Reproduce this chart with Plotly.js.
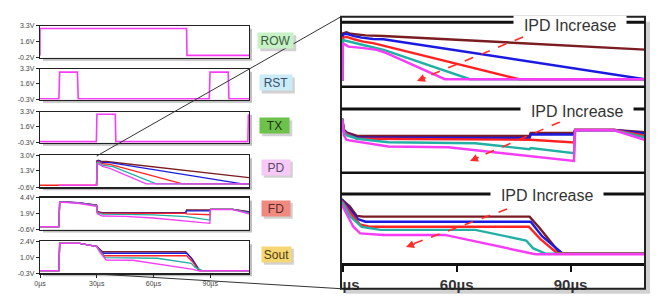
<!DOCTYPE html>
<html><head><meta charset="utf-8">
<script src="https://cdn.plot.ly/plotly-3.0.1.min.js"></script>
<style>html,body{margin:0;padding:0;background:#fff}#c{width:665px;height:306px}</style>
</head><body><div id="c"></div>
<script>
// ---------------- DATA (time in µs, voltage in V) ----------------
const panelNames = ['ROW','RST','TX','PD','FD','Sout'];
const leftXTicks = [0,30,60,90];
const leftXTickText = ['0µs','30µs','60µs','90µs'];
const zoomXTicks = [30,60,90];
const zoomXTickText = ['30µs','60µs','90µs'];
const rowTicks  = [-0.2,1.6,3.3];
const rstTicks  = [-0.3,1.6,3.3];
const txTicks   = [-0.3,1.6,3.3];
const pdTicks   = [-0.6,1.3,3.0];
const fdTicks   = [-0.6,1.9,4.4];
const soutTicks = [-0.3,1.0,2.4];

const rowSig = [[0,0.05],[0,3.0],[77.5,3.0],[77.7,0.05],[110.5,0.05]];
const rstSig = [[0,-0.18],[10,-0.18],[10.4,2.9],[19.8,2.9],[20.2,-0.18],[89.5,-0.18],[89.9,2.9],[99.5,2.9],[99.9,-0.18],[110.5,-0.18]];
const txSig  = [[0,-0.18],[29.8,-0.18],[30.1,3.0],[39.8,3.0],[40.1,-0.18],[109.9,-0.18],[110.2,3.0]];

// PD (left)
const pdBrown   = [[29.9,-0.37],[30.1,2.39],[31,2.45],[32.5,2.3],[35,2.3],[110.5,0.48]];
const pdBlue    = [[29.9,-0.37],[30.1,2.33],[31,2.4],[33,2.2],[37,2.17],[107,-0.22],[110.5,-0.22]];
const pdRed     = [[0,-0.37],[29.9,-0.37],[30.1,2.25],[31,2.3],[33,2.05],[37,1.99],[75.4,-0.22],[110.5,-0.22]];
const pdCyan    = [[29.9,-0.37],[30.1,2.17],[31,2.2],[33,1.9],[38.6,1.72],[61.4,-0.22],[110.5,-0.22]];
const pdMagenta = [[10,-0.37],[29.9,-0.37],[30.1,2.02],[31,2.05],[33,1.75],[37,1.54],[56.2,-0.22],[110.5,-0.22]];

// FD (left)
const fdBrown   = [[0,-0.16],[10,-0.16],[10.4,3.74],[20,3.59],[29,3.23],[29.9,3.2],[30.3,2.2],[33,2.05],[77,2.05],[77.5,2.45],[89.8,2.45],[90.1,2.56],[102,2.56],[110.5,2.2]];
const fdBlue    = [[0,-0.16],[10,-0.16],[10.4,3.74],[20,3.59],[29,3.23],[29.9,3.2],[30.3,2.15],[33,1.95],[77,1.95],[77.5,2.3],[89.8,2.3],[90.1,2.56],[102,2.56],[110.5,2.1]];
const fdRed     = [[0,-0.16],[10,-0.16],[10.4,3.72],[20,3.57],[29,3.2],[29.9,3.17],[30.3,2.1],[33,1.93],[77,1.93],[77.5,1.85],[89.8,1.71],[90.1,2.56],[102,2.56],[110.5,2.0]];
const fdCyan    = [[0,-0.16],[10,-0.16],[10.4,3.72],[20,3.55],[29,3.15],[29.9,3.12],[30.3,2.0],[33,1.8],[60,1.7],[77,1.3],[77.5,1.4],[89.8,0.88],[90.1,2.56],[102,2.56],[110.5,1.95]];
const fdMagenta = [[0,-0.16],[10,-0.16],[10.4,3.7],[20,3.5],[29,3.07],[29.9,3.05],[30.3,1.85],[33,1.51],[45,1.45],[60,1.2],[89.8,0.37],[90.1,2.5],[102,2.5],[110.5,1.85]];

// Sout (left)
const soBrown   = [[0,-0.08],[10,-0.08],[10.4,2.23],[21,2.23],[29,2.0],[30,1.97],[31.5,1.75],[33,1.52],[77,1.52],[80,1.0],[84,-0.08],[110.5,-0.08]];
const soBlue    = [[0,-0.08],[10,-0.08],[10.4,2.23],[21,2.23],[29,2.0],[30,1.97],[31.5,1.7],[33.5,1.39],[77.5,1.39],[80.5,0.9],[84.5,-0.08],[110.5,-0.08]];
const soRed     = [[0,-0.08],[10,-0.08],[10.4,2.23],[21,2.23],[29,2.0],[30,1.97],[31.5,1.65],[34,1.18],[77.5,1.18],[80.5,0.7],[84,-0.08],[110.5,-0.08]];
const soCyan    = [[0,-0.08],[10,-0.08],[10.4,2.23],[21,2.23],[29,2.0],[30,1.97],[31.5,1.6],[34.5,1.02],[62,0.97],[80,0.54],[82,0.2],[86,-0.08],[110.5,-0.08]];
const soMagenta = [[0,-0.08],[10,-0.08],[10.4,2.23],[21,2.23],[29,2.0],[30,1.97],[31.5,1.5],[35,0.82],[49,0.8],[81,0.04],[83,-0.08],[110.5,-0.08]];

// Zoomed PD (right top)
const zPdBrown   = [[29.5,-0.37],[29.95,-0.37],[30.05,2.58],[31,2.65],[32,2.55],[34,2.5],[36,2.45],[40.7,2.41],[111,1.52]];
const zPdBlue    = [[29.5,-0.37],[29.95,-0.37],[30.05,2.5],[31,2.55],[33,2.4],[35,2.3],[38,2.22],[40.7,2.2],[109.6,-0.35],[111,-0.35]];
const zPdRed     = [[29.5,-0.37],[29.95,-0.37],[30.05,2.3],[31,2.35],[33,2.2],[35.4,2.05],[38,1.95],[40,1.83],[76.5,-0.35],[111,-0.35]];
const zPdCyan    = [[29.5,-0.37],[29.95,-0.37],[30.05,2.15],[31,2.1],[33,1.95],[35.4,1.83],[40.8,1.52],[63.5,-0.35],[111,-0.35]];
const zPdMagenta = [[29.5,-0.37],[29.95,-0.37],[30.05,1.94],[31.5,1.73],[35,1.65],[39,1.52],[41.7,1.3],[56.9,-0.35],[111,-0.35]];

// Zoomed FD (right middle)
const zFdBrown   = [[29.5,3.25],[29.9,3.2],[30.3,2.5],[31,2.3],[33.8,2.05],[79.2,2.05],[79.5,2.26],[90.9,2.26],[91.2,2.47],[101.5,2.47],[111,2.28]];
const zFdBlue    = [[29.5,3.25],[29.9,3.2],[30.3,2.45],[31,2.25],[33.8,1.92],[79.2,1.9],[79.5,2.15],[90.9,2.15],[91.2,2.47],[101.5,2.47],[111,2.19]];
const zFdRed     = [[29.5,3.25],[29.9,3.2],[30.3,2.4],[31,2.2],[33.8,1.85],[79.2,1.82],[79.5,1.78],[90.9,1.58],[91.2,2.47],[101.5,2.47],[111,2.0]];
const zFdCyan    = [[29.5,3.25],[29.9,3.2],[30.3,2.35],[31,2.1],[33.8,1.85],[42,1.6],[64.9,1.53],[79.2,1.11],[79.5,1.2],[90.9,0.83],[91.2,2.45],[101.5,2.45],[111,1.85]];
const zFdMagenta = [[29.5,3.2],[29.9,3.15],[30.3,2.1],[31,1.77],[42,1.3],[57.8,1.25],[90.9,0.28],[91.2,2.45],[101.5,2.45],[111,1.65]];

// Zoomed Sout (right bottom)
const zSoBrown   = [[29.5,2.05],[29.65,2.0],[31.9,1.72],[33.7,1.37],[35.4,1.34],[79.2,1.34],[81.9,0.9],[87.2,-0.04],[111,-0.04]];
const zSoBlue    = [[29.5,2.0],[30,1.95],[32,1.6],[34,1.25],[36,1.15],[79.5,1.15],[82.5,0.6],[87.8,-0.04],[111,-0.04]];
const zSoRed     = [[29.5,1.95],[30,1.9],[32,1.5],[34.5,1.05],[37,0.96],[79,0.96],[82,0.5],[86.5,-0.04],[111,-0.04]];
const zSoCyan    = [[29.5,1.9],[30,1.85],[32,1.35],[35,0.95],[40,0.84],[64.9,0.84],[78.3,0.44],[80.1,0.15],[83.5,-0.06],[111,-0.06]];
const zSoMagenta = [[29.5,1.85],[29.8,1.78],[32.8,0.96],[34.6,0.71],[40.8,0.65],[56.9,0.65],[80.1,-0.06],[81,-0.08],[111,-0.08]];

// ---------------- STYLE / LAYOUT ----------------
const W = 665, H = 306;
const X = px => px / W, Y = py => 1 - py / H;
const C = {brown:'#7a1c22', blue:'#1a1ae0', red:'#ff2222', cyan:'#22b0a4', magenta:'#f63cf6'};
const FONT = 'Liberation Sans, Arial, sans-serif';

const leftFrames = [[25.7,57.7],[68.7,99.8],[111.7,142.7],[155.3,187.3],[197.5,229.5],[241.3,273.3]];
const leftX = [40, 249];
const rightX = [341, 645];
const rightFrames = [[16.7,86.7],[86.7,172.7],[172.7,263]];

const traces = [];
function add(pairs, i, color, width){
  traces.push({x:pairs.map(p=>p[0]), y:pairs.map(p=>p[1]), xaxis:'x'+(i>1?i:''), yaxis:'y'+(i>1?i:''),
    mode:'lines', line:{color:color, width:width}, hoverinfo:'skip', showlegend:false});
}
add(rowSig,1,C.magenta,1.6);
add(rstSig,2,C.magenta,1.6);
add(txSig,3,C.magenta,1.6);
[[pdBrown,'brown'],[pdBlue,'blue'],[pdRed,'red'],[pdCyan,'cyan'],[pdMagenta,'magenta']].forEach(s=>add(s[0],4,C[s[1]],1.3));
[[fdBrown,'brown'],[fdBlue,'blue'],[fdRed,'red'],[fdCyan,'cyan'],[fdMagenta,'magenta']].forEach(s=>add(s[0],5,C[s[1]],1.3));
[[soBrown,'brown'],[soBlue,'blue'],[soRed,'red'],[soCyan,'cyan'],[soMagenta,'magenta']].forEach(s=>add(s[0],6,C[s[1]],1.3));
[[zPdBrown,'brown'],[zPdBlue,'blue'],[zPdRed,'red'],[zPdCyan,'cyan'],[zPdMagenta,'magenta']].forEach(s=>add(s[0],7,C[s[1]],2.4));
[[zFdBrown,'brown'],[zFdBlue,'blue'],[zFdRed,'red'],[zFdCyan,'cyan'],[zFdMagenta,'magenta']].forEach(s=>add(s[0],8,C[s[1]],2.4));
[[zSoBrown,'brown'],[zSoBlue,'blue'],[zSoRed,'red'],[zSoCyan,'cyan'],[zSoMagenta,'magenta']].forEach(s=>add(s[0],9,C[s[1]],2.4));

const leftRanges = [[-0.2,3.3],[-0.3,3.3],[-0.3,3.3],[-0.6,3.0],[-0.6,4.4],[-0.3,2.4]];
const leftTicks = [rowTicks,rstTicks,txTicks,pdTicks,fdTicks,soutTicks];
const rightRanges = [[-0.83,3.64],[-0.55,5.53],[-0.41,3.0]];

const layout = {width:W, height:H, margin:{l:0,r:0,t:0,b:0}, paper_bgcolor:'#fff', plot_bgcolor:'#fff',
  showlegend:false, font:{family:FONT}, shapes:[], annotations:[]};

for(let k=0;k<6;k++){
  const i=k+1, s=(i>1?i:'');
  const fr=leftFrames[k];
  layout['xaxis'+s] = {domain:[X(leftX[0]),X(leftX[1])], range:[0,110.5], anchor:'y'+s,
    showline:true, mirror:true, linecolor:'#222', linewidth:1.2, showgrid:false, zeroline:false,
    ticks: i===6?'outside':'', ticklen:3, tickcolor:'#222', showticklabels: i===6,
    tickvals:leftXTicks, ticktext:leftXTickText, tickfont:{size:7,color:'#444',family:FONT}};
  layout['yaxis'+s] = {domain:[Y(fr[1]),Y(fr[0])], range:leftRanges[k], anchor:'x'+s,
    showline:true, mirror:true, linecolor:'#222', linewidth:1.2, showgrid:false, zeroline:false,
    ticks:'outside', ticklen:3, tickcolor:'#222', tickvals:leftTicks[k],
    ticktext:leftTicks[k].map(v=>v.toFixed(1)+'V'), tickfont:{size:7,color:'#444',family:FONT}};
}
for(let k=0;k<3;k++){
  const i=k+7, fr=rightFrames[k];
  layout['xaxis'+i] = {domain:[X(rightX[0]),X(rightX[1])], range:[29.55,109.6], anchor:'y'+i,
    showgrid:false, zeroline:false, showline:i===9, linecolor:'#111', linewidth:2.5,
    ticks:i===9?'outside':'', ticklen:6, tickwidth:2, tickcolor:'#111', showticklabels:i===9,
    tickvals:zoomXTicks, ticktext:zoomXTickText, tickfont:{size:15,color:'#333',family:FONT,weight:'bold'}};
  layout['yaxis'+i] = {domain:[Y(fr[1]),Y(fr[0])], range:rightRanges[k], anchor:'x'+i,
    visible:false, showgrid:false, zeroline:false};
}

const sh = layout.shapes;
function Lshadow(x0,y0,x1,y1,s,col){
  sh.push({type:'path', xref:'paper', yref:'paper', layer:'below', line:{width:0}, fillcolor:col,
    path:`M ${X(x1)},${Y(y0+s)} L ${X(x1+s)},${Y(y0+s)} L ${X(x1+s)},${Y(y1+s)} L ${X(x0+s)},${Y(y1+s)} L ${X(x0+s)},${Y(y1)} L ${X(x1)},${Y(y1)} Z`});
}
leftFrames.forEach(f=>Lshadow(leftX[0],f[0],leftX[1],f[1],3,'rgba(0,0,0,0.25)'));
Lshadow(rightX[0],16.7,rightX[1],288.7,5,'rgba(0,0,0,0.18)');

function line(x0,y0,x1,y1,w,col,dash){
  sh.push({type:'line', xref:'paper', yref:'paper', layer:'above', x0:X(x0), y0:Y(y0), x1:X(x1), y1:Y(y1),
    line:{width:w, color:col, dash:dash||'solid'}});
}
// right panel frame & dividers
sh.push({type:'rect', xref:'paper', yref:'paper', layer:'above', x0:X(rightX[0]), y0:Y(16.7), x1:X(rightX[1]), y1:Y(288.7), line:{width:2,color:'#222'}});
line(rightX[0],86.7,rightX[1],86.7,2.5,'#111');
line(rightX[0],172.7,rightX[1],172.7,2.5,'#111');
// header lines
line(rightX[0],22.3,rightX[1],22.3,3,'#111');
line(rightX[0],109,rightX[1],109,3,'#111');
line(rightX[0],194,rightX[1],194,3,'#111');
// cover clipped part of first zoom tick label
sh.push({type:'rect', xref:'paper', yref:'paper', layer:'above', x0:X(305), y0:Y(265), x1:X(340), y1:Y(294), line:{width:0}, fillcolor:'#fff'});
// connector lines
line(96.7,156,341,16.7,1,'#333');
line(96.7,274,341,288.7,1,'#333');
// red dashed arrows
const arrows = [[[523,37],[417,81]],[[560,122],[470,161]],[[507,209],[406,247]]];
arrows.forEach(a=>{
  line(a[0][0],a[0][1],a[1][0]+4,a[1][1]-2,1.6,'#ff2a2a','dash');
  const dx=a[0][0]-a[1][0], dy=a[0][1]-a[1][1], L=Math.hypot(dx,dy);
  layout.annotations.push({xref:'paper', yref:'paper', x:X(a[1][0]), y:Y(a[1][1]), ax:dx/L*11, ay:dy/L*11,
    xanchor:'center', yanchor:'middle', text:'', showarrow:true, arrowhead:2, arrowsize:1, arrowwidth:1.6, arrowcolor:'#ff2a2a'});
});
// IPD Increase headers
[[570,25],[577,111],[547,196]].forEach(p=>{
  layout.annotations.push({xref:'paper', yref:'paper', x:X(p[0]), y:Y(p[1]), xanchor:'center', yanchor:'middle',
    text:'\u00a0\u00a0IPD Increase\u00a0\u00a0', showarrow:false, bgcolor:'#fff', borderpad:1, font:{size:16,color:'#333',family:FONT}});
});
// signal name boxes
const boxes = [
  ['ROW',275.8,40.8,35,'#c6f2c6','#3c5a3c'],
  ['RST',275.8,83,32,'#c9ecf7','#3b4c6a'],
  ['TX',274.7,125.8,29,'#6cc24a','#223311'],
  ['PD',275.8,167.2,28,'#f6c9f6','#5a4a6a'],
  ['FD',275.8,208.3,28,'#f08a80','#5a2a2a'],
  ['Sout',276.3,254.2,29,'#f7d774','#4a3a10']
];
boxes.forEach(b=>{
  sh.push({type:'rect', xref:'paper', yref:'paper', layer:'above', x0:X(b[1]-b[3]/2+2), x1:X(b[1]+b[3]/2+3),
    y0:Y(b[2]-7.5+2), y1:Y(b[2]+7.5+3), line:{width:0}, fillcolor:'rgba(0,0,0,0.18)'});
  layout.annotations.push({xref:'paper', yref:'paper', x:X(b[1]), y:Y(b[2]), xanchor:'center', yanchor:'middle',
    text:b[0], showarrow:false, width:b[3], height:15, bgcolor:b[4], borderpad:0, font:{size:12,color:b[5],family:FONT}});
});

Plotly.newPlot('c', traces, layout, {staticPlot:true, displayModeBar:false});
</script>
</body></html>
